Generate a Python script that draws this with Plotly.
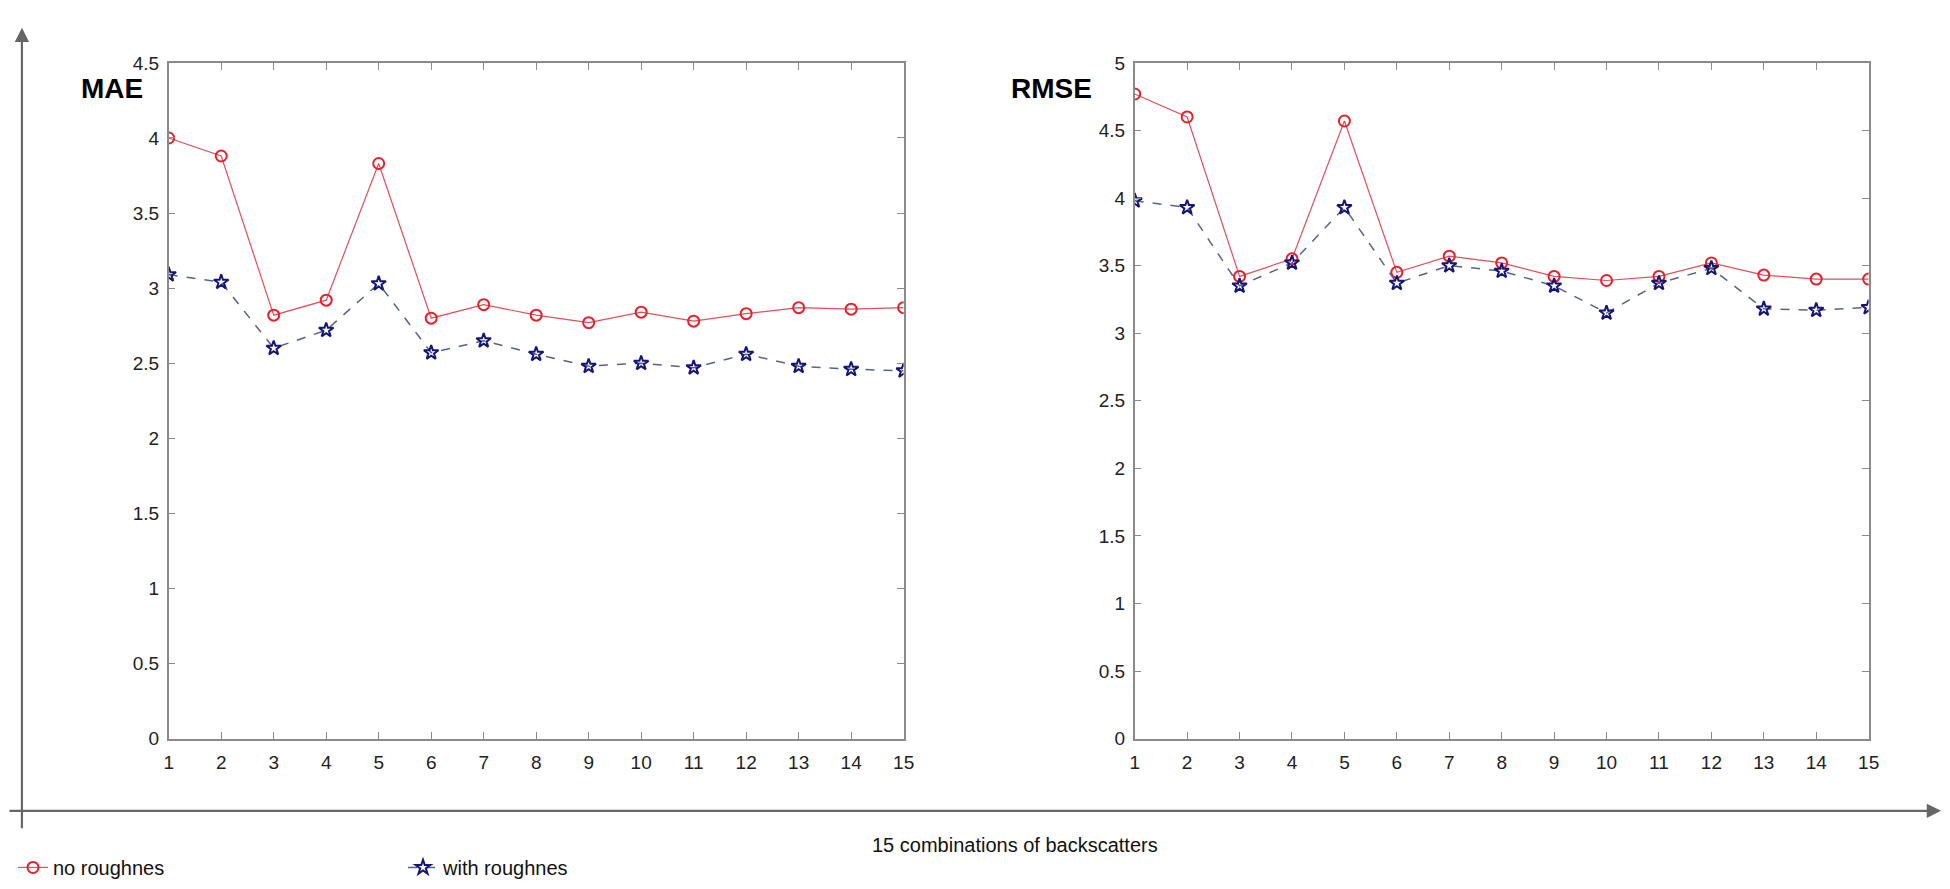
import plotly.graph_objects as go
from plotly.subplots import make_subplots

# combinations of backscatters
combos = list(range(1, 16))

# MAE values
mae_no_rough = [4.00, 3.88, 2.82, 2.92, 3.83, 2.80, 2.89, 2.82, 2.77, 2.84, 2.78, 2.83, 2.87, 2.86, 2.87]
mae_with_rough = [3.09, 3.04, 2.60, 2.72, 3.03, 2.57, 2.65, 2.56, 2.48, 2.50, 2.47, 2.56, 2.48, 2.46, 2.45]

# RMSE values
rmse_no_rough = [4.77, 4.60, 3.42, 3.55, 4.57, 3.45, 3.57, 3.52, 3.42, 3.39, 3.42, 3.52, 3.43, 3.40, 3.40]
rmse_with_rough = [3.98, 3.93, 3.35, 3.52, 3.93, 3.37, 3.50, 3.46, 3.35, 3.15, 3.37, 3.48, 3.18, 3.17, 3.19]

mae_ticks = [0, 0.5, 1, 1.5, 2, 2.5, 3, 3.5, 4, 4.5]
rmse_ticks = [0, 0.5, 1, 1.5, 2, 2.5, 3, 3.5, 4, 4.5, 5]

W, H = 1950, 889
red = "#e8202a"
navy = "#14147a"
font = "Liberation Sans"

fig = make_subplots(rows=1, cols=2)

red_line = dict(color="#e0505a", width=1.2)
blue_line = dict(color="#5a6282", width=1.5, dash="dash")
red_marker = dict(symbol="circle-open", size=11, color=red, line=dict(width=2, color=red))
blue_marker = dict(symbol="star-open", size=11, color=navy, line=dict(width=2, color=navy))

fig.add_trace(go.Scatter(x=combos, y=mae_no_rough, mode="lines+markers", name="no roughnes",
                         line=red_line, marker=red_marker), row=1, col=1)
fig.add_trace(go.Scatter(x=combos, y=mae_with_rough, mode="lines+markers", name="with roughnes",
                         line=blue_line, marker=blue_marker), row=1, col=1)
fig.add_trace(go.Scatter(x=combos, y=rmse_no_rough, mode="lines+markers", name="no roughnes",
                         line=red_line, marker=red_marker, showlegend=False), row=1, col=2)
fig.add_trace(go.Scatter(x=combos, y=rmse_with_rough, mode="lines+markers", name="with roughnes",
                         line=blue_line, marker=blue_marker, showlegend=False), row=1, col=2)

axis_style = dict(showline=True, linecolor="#8a8a8a", linewidth=1.5, mirror="ticks",
                  ticks="inside", ticklen=7, tickcolor="#8a8a8a", tickwidth=1,
                  showgrid=False, zeroline=False,
                  tickfont=dict(family=font, size=19, color="#222222"))

y_dom = [(H - 738) / H, (H - 46) / H]
fig.update_xaxes(axis_style, range=[1, 15], tickvals=combos, ticklabelstandoff=6)
fig.update_xaxes(domain=[157 / W, 898 / W], row=1, col=1)
fig.update_xaxes(domain=[1131 / W, 1871 / W], row=1, col=2)
fig.update_yaxes(axis_style, domain=y_dom, ticklabelstandoff=4)
fig.update_yaxes(range=[0, 4.5], tickvals=mae_ticks, ticktext=[f"{t:g}" for t in mae_ticks], row=1, col=1)
fig.update_yaxes(range=[0, 5], tickvals=rmse_ticks, ticktext=[f"{t:g}" for t in rmse_ticks], row=1, col=2)

# panel titles
fig.add_annotation(text="<b>MAE</b>", x=67 / W, y=1 - 54 / H, xref="paper", yref="paper",
                   showarrow=False, font=dict(family=font, size=28, color="black"))
fig.add_annotation(text="<b>RMSE</b>", x=1047 / W, y=1 - 54 / H, xref="paper", yref="paper",
                   showarrow=False, font=dict(family=font, size=28, color="black"))

# outer frame arrows
fig.add_annotation(text="", x=1944 / W, y=1 - 812 / H, xref="paper", yref="paper",
                   ax=-1935, ay=0, showarrow=True, arrowhead=2, arrowsize=1.3,
                   arrowwidth=2.2, arrowcolor="#666666")
fig.add_annotation(text="", x=9 / W, y=1 - 10 / H, xref="paper", yref="paper",
                   ax=0, ay=802, showarrow=True, arrowhead=2, arrowsize=1.3,
                   arrowwidth=2.2, arrowcolor="#666666")

fig.add_annotation(text="15 combinations of backscatters", x=864 / W, y=1 - 847 / H,
                   xref="paper", yref="paper", xanchor="left", yanchor="middle",
                   showarrow=False, font=dict(family=font, size=20, color="#111111"))

fig.update_layout(
    width=W, height=H,
    margin=dict(l=0, r=0, t=0, b=0),
    paper_bgcolor="white", plot_bgcolor="white",
    showlegend=True,
    legend=dict(orientation="h", x=0.0, y=1 - 870 / H, xanchor="left", yanchor="middle",
                entrywidth=345, entrywidthmode="pixels",
                font=dict(family=font, size=20, color="#111111"),
                bgcolor="rgba(0,0,0,0)"),
)

fig.write_html("out.html")
